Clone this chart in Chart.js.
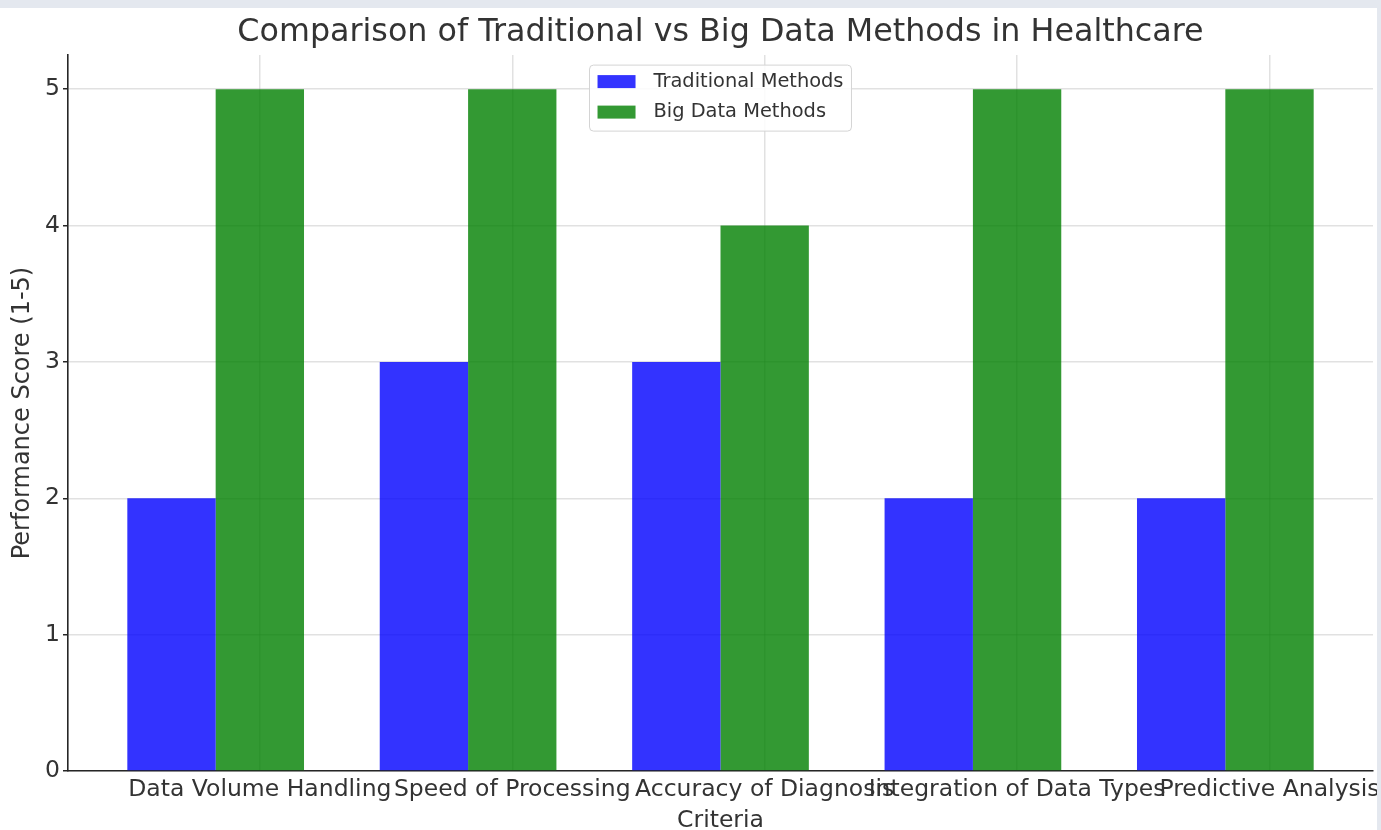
<!DOCTYPE html>
<html>
<head>
<meta charset="utf-8">
<script src="https://cdn.jsdelivr.net/npm/chart.js@4.4.1/dist/chart.umd.min.js"></script>
<style>
  html, body { margin: 0; padding: 0; background: #e4e8ef; }
  canvas { display: block; }
</style>
</head>
<body>
<canvas id="chart" width="1381" height="830"></canvas>
<script>
// Criteria compared and the 1-5 score each approach gets
const criteria = [
  'Data Volume Handling',
  'Speed of Processing',
  'Accuracy of Diagnosis',
  'Integration of Data Types',
  'Predictive Analysis'
];
const traditionalScores = [2, 3, 3, 2, 2];
const bigDataScores = [5, 5, 4, 5, 5];
const scoreTicks = [0, 1, 2, 3, 4, 5];

const BAR_WIDTH = 0.35;              // width of one bar, in category units
const FONT = "'DejaVu Sans', 'Noto Sans', sans-serif";
const TEXT = '#333333';
const GRID = 'rgba(176,176,176,0.38)';
const SPINE = '#262626';
const PAGE = '#e4e8ef';

// Axis limits with a 5% margin around the bars, like the usual plotting defaults
const span = (criteria.length - 1) + 2 * BAR_WIDTH;
const xMin = -BAR_WIDTH - 0.05 * span;
const xMax = (criteria.length - 1) + BAR_WIDTH + 0.05 * span;
const yMax = Math.max(...traditionalScores, ...bigDataScores) * 1.05;

// White figure panel on the page background; the page edge trims the panel
const figurePanel = {
  id: 'figurePanel',
  beforeDraw(chart) {
    const { ctx, width, height } = chart;
    ctx.save();
    ctx.fillStyle = PAGE;
    ctx.fillRect(0, 0, width, height);
    ctx.fillStyle = '#ffffff';
    ctx.fillRect(0, 8, width - 4, height - 8);
    ctx.restore();
  },
  afterDraw(chart) {
    const { ctx, width, height } = chart;
    ctx.save();
    ctx.fillStyle = PAGE;
    ctx.fillRect(width - 4, 0, 4, height);
    ctx.fillRect(0, 0, width, 8);
    ctx.restore();
  }
};

// Framed legend drawn inside the plot, at the upper centre
const insideLegend = {
  id: 'insideLegend',
  afterDraw(chart) {
    const { ctx, chartArea } = chart;
    const sets = chart.data.datasets;
    ctx.save();
    ctx.font = `19.4px ${FONT}`;
    const textW = Math.max(...sets.map(d => ctx.measureText(d.label).width));
    const pad = 8, patchW = 38, patchH = 13, gap = 18, rowH = 30.5;
    const w = pad + patchW + gap + textW + pad;
    const h = 66;
    const x = (chartArea.left + chartArea.right) / 2 - w / 2;
    const y = chartArea.top + 10;
    ctx.beginPath();
    ctx.roundRect(x, y, w, h, 4);
    ctx.fillStyle = 'rgba(255,255,255,0.85)';
    ctx.fill();
    ctx.strokeStyle = '#d4d4d4';
    ctx.lineWidth = 1;
    ctx.stroke();
    sets.forEach((d, i) => {
      const cy = y + 16.5 + i * rowH;
      ctx.fillStyle = d.backgroundColor;
      ctx.fillRect(x + pad, cy - patchH / 2, patchW, patchH);
      ctx.fillStyle = TEXT;
      ctx.textAlign = 'left';
      ctx.textBaseline = 'middle';
      ctx.fillText(d.label, x + pad + patchW + gap, cy);
    });
    ctx.restore();
  }
};

new Chart(document.getElementById('chart'), {
  type: 'bar',
  data: {
    datasets: [
      {
        label: 'Traditional Methods',
        data: traditionalScores.map((v, i) => ({ x: i, y: v })),
        backgroundColor: 'rgba(0,0,255,0.8)',
        borderWidth: 0
      },
      {
        label: 'Big Data Methods',
        data: bigDataScores.map((v, i) => ({ x: i, y: v })),
        backgroundColor: 'rgba(0,128,0,0.8)',
        borderWidth: 0
      }
    ]
  },
  options: {
    responsive: false,
    animation: false,
    devicePixelRatio: 1,
    categoryPercentage: 2 * BAR_WIDTH,
    barPercentage: 1,
    layout: { padding: { left: 0, right: 8, top: 0, bottom: 0 } },
    plugins: {
      legend: { display: false },
      tooltip: { enabled: false },
      title: {
        display: true,
        fullSize: false,
        text: 'Comparison of Traditional vs Big Data Methods in Healthcare',
        color: TEXT,
        font: { family: FONT, size: 31.75, weight: 'normal' },
        padding: { top: 14, bottom: 3 }
      }
    },
    scales: {
      x: {
        type: 'linear',
        min: xMin,
        max: xMax,
        offset: false,
        z: 1,
        grid: { color: GRID, lineWidth: 1.5, drawTicks: false, offset: false },
        border: { color: SPINE, width: 1.6 },
        afterBuildTicks: s => { s.ticks = criteria.map((c, i) => ({ value: i + BAR_WIDTH / 2 })); },
        afterFit: s => { s.height = 59; s.paddingLeft = 0; s.paddingRight = 0; },
        ticks: {
          autoSkip: false,
          maxRotation: 0,
          minRotation: 0,
          padding: 5,
          color: TEXT,
          font: { family: FONT, size: 23.5 },
          callback: (v, i) => criteria[i]
        },
        title: {
          display: true,
          text: 'Criteria',
          color: TEXT,
          font: { family: FONT, size: 23.5, lineHeight: 0.8 },
          padding: { top: 0, bottom: 0 }
        }
      },
      y: {
        min: 0,
        max: yMax,
        z: 1,
        grid: { color: GRID, lineWidth: 1.5, tickColor: SPINE, tickLength: 5 },
        border: { color: SPINE, width: 1.6 },
        afterBuildTicks: s => { s.ticks = scoreTicks.map(v => ({ value: v })); },
        afterFit: s => { s.width = 68; s.paddingTop = 0; s.paddingBottom = 0; },
        ticks: {
          padding: 3,
          color: TEXT,
          font: { family: FONT, size: 23.5 }
        },
        title: {
          display: true,
          text: 'Performance Score (1-5)',
          color: TEXT,
          font: { family: FONT, size: 24 },
          padding: { top: 8, bottom: 0 }
        }
      }
    }
  },
  plugins: [figurePanel, insideLegend]
});
</script>
</body>
</html>
